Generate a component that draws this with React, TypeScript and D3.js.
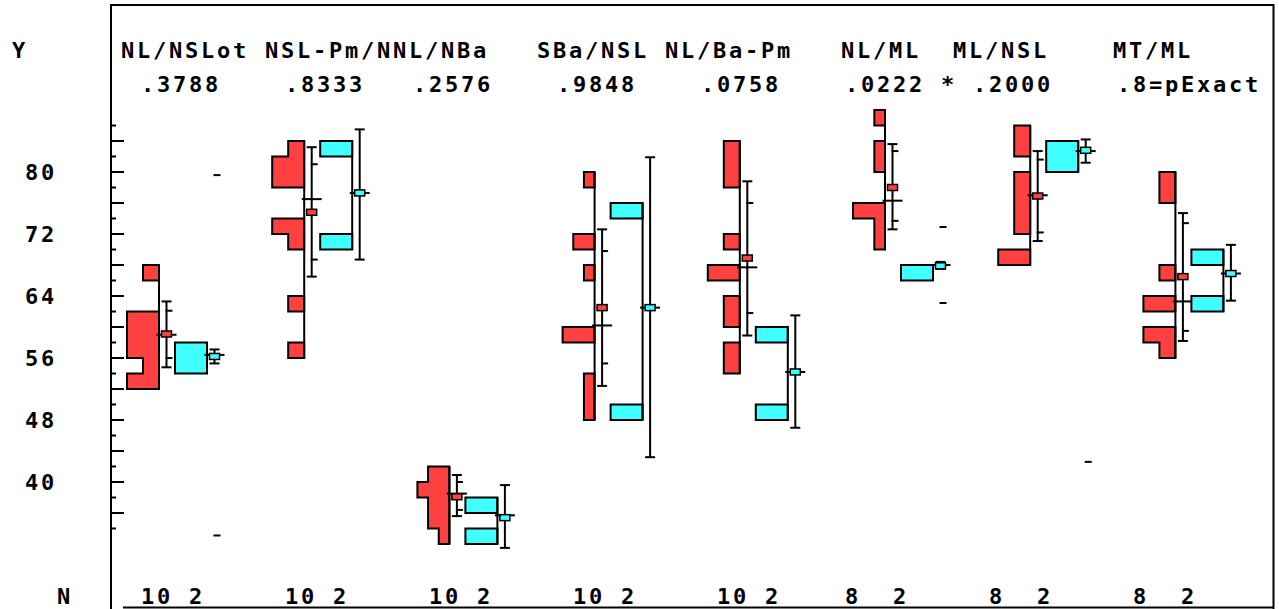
import React from 'react';
import * as d3 from 'd3';

const W = 1279;
const H = 609;

const groups = ['g1', 'g2', 'g3', 'g4', 'g5', 'g6', 'g7', 'g8'];
const titles = ['NL/NSLot', 'NSL-Pm/N', 'NL/NBa', 'SBa/NSL', 'NL/Ba-Pm', 'NL/ML', 'ML/NSL', 'MT/ML'];
const pLabels = ['.3788', '.8333', '.2576', '.9848', '.0758', '.0222 *', '.2000', '.8=pExact'];
const nRed = [10, 10, 10, 10, 10, 8, 8, 8];
const nCyan = [2, 2, 2, 2, 2, 2, 2, 2];

// histogram bins: [lower edge, count], bins are 2 units tall
const redBins: [number, number][][] = [
  [[66, 1], [60, 2], [58, 2], [56, 2], [54, 1], [52, 2]],
  [[82, 1], [80, 2], [78, 2], [72, 2], [70, 1], [62, 1], [56, 1]],
  [[40, 2], [38, 3], [36, 2], [34, 2], [32, 1]],
  [[78, 1], [70, 2], [66, 1], [58, 3], [52, 1], [50, 1], [48, 1]],
  [[82, 1], [80, 1], [78, 1], [70, 1], [66, 2], [62, 1], [60, 1], [56, 1], [54, 1]],
  [[86, 1], [82, 1], [80, 1], [74, 3], [72, 1], [70, 1]],
  [[84, 1], [82, 1], [78, 1], [76, 1], [74, 1], [72, 1], [68, 2]],
  [[78, 1], [76, 1], [66, 1], [62, 2], [58, 2], [56, 1]],
];
const cyanBins: [number, number][][] = [
  [[56, 1], [54, 1]],
  [[82, 1], [70, 1]],
  [[36, 1], [32, 1]],
  [[74, 1], [48, 1]],
  [[58, 1], [48, 1]],
  [[66, 2]],
  [[82, 1], [80, 1]],
  [[68, 1], [62, 1]],
];

// summary markers
const redMean = [59.1, 74.8, 38.1, 62.5, 68.9, 78.0, 76.9, 66.5];
const redSdLo = [54.8, 66.5, 35.6, 52.4, 58.9, 72.6, 71.1, 58.2];
const redSdHi = [63.3, 83.2, 40.9, 72.6, 78.8, 83.6, 82.7, 74.7];
const redCiLo = [56.0, 68.7, 36.4, 55.3, 61.8, 73.7, 72.2, 59.5];
const redCiHi = [62.1, 81.0, 40.0, 69.8, 76.0, 82.7, 81.6, 73.4];
const redMedian = [59.0, 76.5, 38.5, 60.2, 67.7, 76.3, 77.0, 63.3];

const cyanMean = [56.2, 77.3, 35.4, 62.5, 54.2, 67.9, 82.8, 66.9];
const cyanSdLo = [55.3, 68.7, 31.5, 43.2, 47.0, 67.5, 81.2, 63.4];
const cyanSdHi = [57.1, 85.5, 39.6, 81.9, 61.5, 68.4, 84.2, 70.6];
const cyanCiLo = [33.1, null, null, null, null, 63.1, 42.6, null];
const cyanCiHi = [79.6, null, null, null, null, 72.9, null, null];
const cyanMedian = [56.4, 77.3, 35.7, 62.5, 54.2, 68.0, 82.7, 66.9];

// text columns on the 16px character grid
const titleCols = [0, 9, 17, 26, 34, 45, 52, 62];
const pCols = [1, 10, 18, 27, 36, 45, 53, 62];
const nCols = [1, 10, 19, 28, 37, 45, 54, 63];
const yLabels = [80, 72, 64, 56, 48, 40];

const RED = '#ff4040';
const CYAN = '#40ffff';
const FONT = "'DejaVu Sans Mono', monospace";

const x = d3.scalePoint<string>().domain(groups).range([159, 1175.4]);
const y = d3.scaleLinear().domain([84, 52]).range([141, 389]);
const cyanOffset = 48;
const errOffset = 7.5;
const histMax = 32;

const txt = (s: string, tx: number, ty: number, key?: string) => (
  <text key={key} x={tx} y={ty} fontFamily={FONT} fontWeight="bold" fontSize={22}
    letterSpacing={2.76} style={{ whiteSpace: 'pre' }} fill="#000">{s}</text>
);

function histPath(bins: [number, number][], base: number) {
  const maxC = d3.max(bins, d => d[1]) || 1;
  const w = d3.scaleLinear().domain([0, maxC]).range([0, histMax]);
  const sorted = [...bins].sort((a, b) => b[0] - a[0]);
  // split into contiguous runs
  const runs: [number, number][][] = [];
  sorted.forEach(b => {
    const last = runs[runs.length - 1];
    if (last && last[last.length - 1][0] === b[0] + 2) last.push(b);
    else runs.push([b]);
  });
  return runs.map(run => {
    const p = d3.path();
    p.moveTo(base, y(run[0][0] + 2));
    run.forEach(([lo, c]) => {
      p.lineTo(base - w(c), y(lo + 2));
      p.lineTo(base - w(c), y(lo));
    });
    p.lineTo(base, y(run[run.length - 1][0]));
    p.closePath();
    return p.toString();
  });
}

function Series(props: {
  bins: [number, number][]; base: number; color: string; mean: number; sdLo: number; sdHi: number;
  ciLo: number | null; ciHi: number | null; median: number;
}) {
  const { bins, base, color, mean, sdLo, sdHi, ciLo, ciHi, median } = props;
  const top = d3.max(bins, d => d[0])! + 2;
  const bottom = d3.min(bins, d => d[0])!;
  const ex = base + errOffset;
  return (
    <g>
      {histPath(bins, base).map((d, i) => (
        <path key={i} d={d} fill={color} stroke="#000" strokeWidth={2} />
      ))}
      <line x1={base} x2={base} y1={y(top)} y2={y(bottom)} stroke="#000" strokeWidth={2} />
      <line x1={ex} x2={ex} y1={y(sdHi)} y2={y(sdLo)} stroke="#000" strokeWidth={2} />
      <line x1={ex - 5} x2={ex + 5} y1={y(sdHi)} y2={y(sdHi)} stroke="#000" strokeWidth={2} />
      <line x1={ex - 5} x2={ex + 5} y1={y(sdLo)} y2={y(sdLo)} stroke="#000" strokeWidth={2} />
      {ciHi != null && <line x1={ex - 1} x2={ex + 6} y1={y(ciHi)} y2={y(ciHi)} stroke="#000" strokeWidth={2} />}
      {ciLo != null && <line x1={ex - 1} x2={ex + 6} y1={y(ciLo)} y2={y(ciLo)} stroke="#000" strokeWidth={2} />}
      <line x1={ex - 10} x2={ex + 10} y1={y(median)} y2={y(median)} stroke="#000" strokeWidth={2} />
      <rect x={ex - 5} y={y(mean) - 3} width={10} height={6} fill={color} stroke="#000" strokeWidth={1.5} />
    </g>
  );
}

const App: React.FC = () => {
  const ticks = d3.range(34, 87, 2);
  return (
    <div style={{ position: 'fixed', left: 0, top: 0, width: W, height: H, background: '#fff' }}>
      <svg width={W} height={H} style={{ display: 'block' }}>
        <rect width={W} height={H} fill="#fff" />
        {/* frame */}
        <line x1={110} x2={1274} y1={5} y2={5} stroke="#000" strokeWidth={2} />
        <line x1={111} x2={111} y1={4} y2={H} stroke="#000" strokeWidth={2} />
        <line x1={1273.5} x2={1273.5} y1={4} y2={H} stroke="#000" strokeWidth={2} />
        <line x1={123} x2={1274} y1={607.5} y2={607.5} stroke="#000" strokeWidth={2} />

        {/* y axis ticks */}
        {ticks.map(t => (
          <line key={t} x1={111} x2={t % 4 === 0 ? 124 : 116} y1={y(t)} y2={y(t)} stroke="#000" strokeWidth={2} />
        ))}
        {yLabels.map(v => txt(String(v), 25, y(v) + 8, 'yl' + v))}
        {txt('Y', 12, 58)}
        {txt('N', 57, 604)}

        {/* headers */}
        {titles.map((t, i) => txt(t, 121 + titleCols[i] * 16, 58, 't' + i))}
        {pLabels.map((t, i) => txt(t, 125 + pCols[i] * 16, 92, 'p' + i))}
        {nRed.map((n, i) => txt(String(n).padEnd(3) + nCyan[i], 125 + nCols[i] * 16, 604, 'n' + i))}

        {groups.map((g, i) => (
          <g key={g}>
            <Series bins={redBins[i]} base={x(g)!} color={RED} mean={redMean[i]} sdLo={redSdLo[i]}
              sdHi={redSdHi[i]} ciLo={redCiLo[i]} ciHi={redCiHi[i]} median={redMedian[i]} />
            <Series bins={cyanBins[i]} base={x(g)! + cyanOffset} color={CYAN} mean={cyanMean[i]} sdLo={cyanSdLo[i]}
              sdHi={cyanSdHi[i]} ciLo={cyanCiLo[i]} ciHi={cyanCiHi[i]} median={cyanMedian[i]} />
          </g>
        ))}
      </svg>
    </div>
  );
};

export default App;
